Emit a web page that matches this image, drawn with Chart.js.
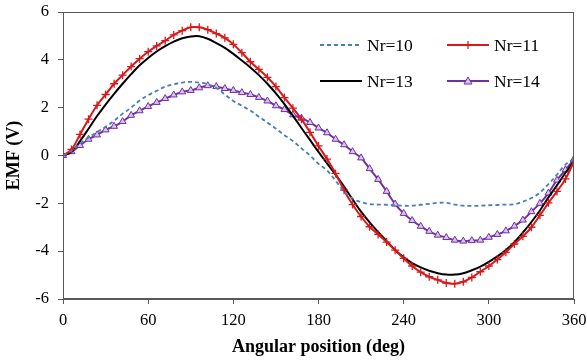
<!DOCTYPE html>
<html>
<head>
<meta charset="utf-8">
<script src="https://cdn.jsdelivr.net/npm/chart.js@4.4.1/dist/chart.umd.min.js"></script>
<style>
  html, body { margin: 0; padding: 0; background: #fff; }
  #wrap { width: 587px; height: 360px; }
</style>
</head>
<body>
<div id="wrap"><canvas id="c" width="587" height="360"></canvas></div>
<script>
const angles = [0,6,12,18,24,30,36,42,48,54,60,66,72,78,84,90,96,102,108,114,120,126,132,138,144,150,156,162,168,174,180,186,192,198,204,210,216,222,228,234,240,246,252,258,264,270,276,282,288,294,300,306,312,318,324,330,336,342,348,354,360];
const xTicks = [0,60,120,180,240,300,360];
const yTicks = [-6,-4,-2,0,2,4,6];
const seriesNames = ["Nr=10","Nr=11","Nr=13","Nr=14"];

const nr10 = [0,0.2,0.5,0.75,0.98,1.2,1.45,1.75,2.0,2.3,2.52,2.7,2.88,2.98,3.05,3.08,3.05,2.98,2.82,2.55,2.28,2.08,1.88,1.62,1.38,1.12,0.85,0.6,0.3,0.0,-0.35,-0.62,-1.05,-1.5,-1.8,-1.95,-2.03,-2.05,-2.06,-2.08,-2.1,-2.1,-2.06,-2.02,-1.98,-1.98,-2.05,-2.1,-2.11,-2.1,-2.08,-2.07,-2.05,-2.04,-1.93,-1.78,-1.55,-1.2,-0.8,-0.38,-0.15];
const nr11 = [0,0.25,0.88,1.52,2.1,2.55,3.0,3.36,3.72,4.05,4.34,4.58,4.8,5.04,5.22,5.36,5.36,5.26,5.1,4.92,4.65,4.3,3.92,3.6,3.27,2.88,2.42,1.98,1.52,0.97,0.4,-0.15,-0.75,-1.45,-2.05,-2.55,-2.98,-3.3,-3.62,-3.96,-4.3,-4.62,-4.88,-5.07,-5.2,-5.33,-5.36,-5.28,-5.1,-4.86,-4.62,-4.35,-4.05,-3.7,-3.38,-3.0,-2.5,-1.98,-1.5,-0.98,-0.25];
const nr13 = [0,0.15,0.6,1.12,1.65,2.13,2.58,3.0,3.4,3.77,4.08,4.35,4.57,4.76,4.9,4.98,4.99,4.88,4.7,4.5,4.25,3.97,3.68,3.36,3.0,2.6,2.15,1.66,1.15,0.65,0.15,-0.33,-0.8,-1.3,-1.83,-2.35,-2.8,-3.2,-3.58,-3.95,-4.26,-4.5,-4.68,-4.82,-4.92,-4.98,-4.98,-4.92,-4.8,-4.65,-4.45,-4.22,-3.95,-3.62,-3.22,-2.78,-2.3,-1.75,-1.25,-0.72,-0.25];
const nr14 = [0,0.16,0.42,0.68,0.86,1.07,1.22,1.42,1.68,1.87,2.05,2.22,2.38,2.53,2.66,2.72,2.83,2.92,2.88,2.8,2.72,2.63,2.55,2.43,2.28,2.08,1.92,1.7,1.56,1.38,1.15,0.95,0.68,0.45,0.16,-0.1,-0.55,-1.0,-1.5,-2.03,-2.42,-2.72,-2.96,-3.17,-3.33,-3.43,-3.54,-3.58,-3.56,-3.54,-3.42,-3.3,-3.15,-2.95,-2.7,-2.35,-2.0,-1.57,-1.03,-0.6,-0.15];

const FONT = "'Liberation Serif', 'Times New Roman', serif";
const toXY = arr => arr.map((v, i) => ({ x: angles[i], y: v }));

const styles = {
  "Nr=10": { color: "#4a7ebb", width: 1.8, dash: [4, 3], point: false },
  "Nr=11": { color: "#d7191c", width: 2, dash: [], point: "cross" },
  "Nr=13": { color: "#000000", width: 2, dash: [], point: false },
  "Nr=14": { color: "#7030a0", width: 2, dash: [], point: "triangle" }
};

function ds(name, arr) {
  const s = styles[name];
  return {
    label: name,
    data: toXY(arr),
    borderColor: s.color,
    backgroundColor: s.point === "triangle" ? "#d9c2ee" : s.color,
    borderWidth: s.width,
    borderDash: s.dash,
    pointStyle: s.point || "circle",
    pointRadius: s.point ? 4 : 0,
    pointBorderWidth: s.point === "cross" ? 1.3 : 1,
    pointBorderColor: s.color,
    pointBackgroundColor: s.point === "triangle" ? "#d9c2ee" : s.color,
    tension: 0.35,
    fill: false
  };
}

const frameAndLegend = {
  id: "frameAndLegend",
  afterDatasetsDraw(chart) {
    const ctx = chart.ctx;
    const a = chart.chartArea;
    ctx.save();
    ctx.strokeStyle = "#595959";
    ctx.lineWidth = 1;
    ctx.strokeRect(Math.round(a.left) + 0.5, Math.round(a.top) + 0.5, Math.round(a.right - a.left) - 1, Math.round(a.bottom - a.top) - 1);
    const items = [
      { name: seriesNames[0], x: 320, y: 45 },
      { name: seriesNames[1], x: 447, y: 45 },
      { name: seriesNames[2], x: 320, y: 81 },
      { name: seriesNames[3], x: 447, y: 81 }
    ];
    items.forEach(it => {
      const s = styles[it.name];
      ctx.beginPath();
      ctx.setLineDash(s.dash);
      ctx.strokeStyle = s.color;
      ctx.lineWidth = s.width;
      ctx.moveTo(it.x, it.y);
      ctx.lineTo(it.x + 42, it.y);
      ctx.stroke();
      ctx.setLineDash([]);
      if (s.point === "cross") {
        ctx.lineWidth = 1.3;
        ctx.beginPath();
        ctx.moveTo(it.x + 21, it.y - 4); ctx.lineTo(it.x + 21, it.y + 4);
        ctx.moveTo(it.x + 17, it.y); ctx.lineTo(it.x + 25, it.y);
        ctx.stroke();
      } else if (s.point === "triangle") {
        ctx.lineWidth = 1;
        ctx.fillStyle = "#d9c2ee";
        ctx.beginPath();
        ctx.moveTo(it.x + 21, it.y - 4);
        ctx.lineTo(it.x + 25, it.y + 3);
        ctx.lineTo(it.x + 17, it.y + 3);
        ctx.closePath();
        ctx.fill();
        ctx.stroke();
      }
      ctx.fillStyle = "#000";
      ctx.font = "17.5px " + FONT;
      ctx.textBaseline = "middle";
      ctx.textAlign = "left";
      ctx.fillText(it.name, it.x + 47, it.y + 1);
    });
    ctx.restore();
  }
};

new Chart(document.getElementById("c"), {
  type: "line",
  data: {
    datasets: [ds("Nr=10", nr10), ds("Nr=11", nr11), ds("Nr=13", nr13), ds("Nr=14", nr14)]
  },
  options: {
    responsive: false,
    animation: false,
    layout: { padding: { left: 0, right: 13, top: 12, bottom: 0 } },
    plugins: { legend: { display: false }, tooltip: { enabled: false } },
    scales: {
      x: {
        type: "linear",
        min: 0, max: 360,
        afterBuildTicks: s => { s.ticks = xTicks.map(v => ({ value: v })); },
        afterFit: s => { s.height = 61; s.paddingLeft = 0; s.paddingRight = 0; },
        ticks: { font: { family: FONT, size: 16.5 }, color: "#000", padding: 7, maxRotation: 0 },
        grid: { drawOnChartArea: false, drawTicks: true, tickLength: 5, color: "#595959" },
        border: { color: "#595959", width: 1 },
        title: { display: true, text: "Angular position (deg)", color: "#000",
                 font: { family: FONT, size: 18, weight: "bold" }, padding: { top: 0, bottom: 2 } }
      },
      y: {
        type: "linear",
        min: -6, max: 6,
        afterBuildTicks: s => { s.ticks = yTicks.map(v => ({ value: v })); },
        afterFit: s => { s.width = 63; s.paddingTop = 0; s.paddingBottom = 0; },
        ticks: { font: { family: FONT, size: 16.5 }, color: "#000", padding: 9 },
        grid: { drawOnChartArea: false, drawTicks: true, tickLength: 5, color: "#595959" },
        border: { color: "#595959", width: 1 },
        title: { display: true, text: "EMF (V)", color: "#000",
                 font: { family: FONT, size: 18, weight: "bold" }, padding: { top: 4, bottom: 4 } }
      }
    }
  },
  plugins: [frameAndLegend]
});
</script>
</body>
</html>
